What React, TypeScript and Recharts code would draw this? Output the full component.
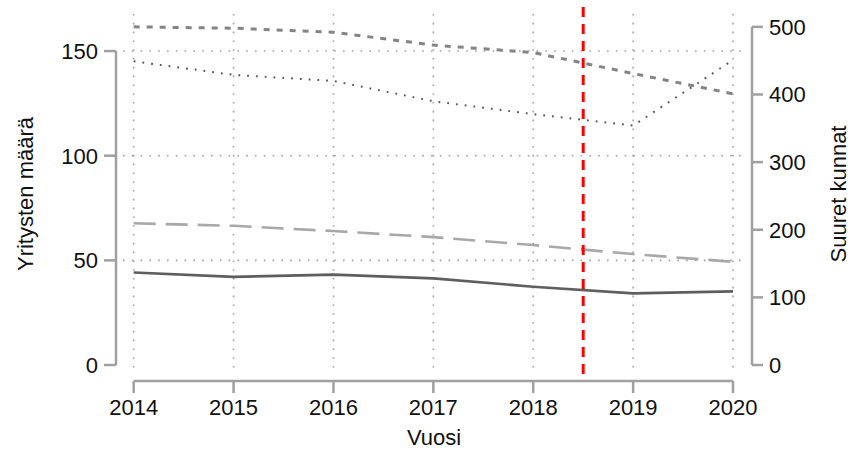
import { CartesianGrid, Line, LineChart, ReferenceLine, XAxis, YAxis } from "recharts"

const years = [2014, 2015, 2016, 2017, 2018, 2019, 2020]
// left axis: Yritysten määrä
const yrityksetSolid = [44.2, 42.1, 43.2, 41.4, 37.4, 34.2, 35.2]
const yrityksetDashed = [67.7, 66.5, 64.0, 61.1, 57.3, 53.0, 49.3]
// right axis: Suuret kunnat
const kunnatDashed = [500, 498, 492, 473, 462, 431, 401]
const kunnatDotted = [449, 429, 420, 390, 371, 354, 451]

const leftTicks = [0, 50, 100, 150]
const rightTicks = [0, 100, 200, 300, 400, 500]
const gridValues = [50, 100, 150]
const cutoffYear = 2018.5

const xDomain = [2013.893, 2020.12]
const leftDomain = [-4.3, 167.7]
const rightDomain = [-13.3, 519]

const data = years.map((year, i) => ({
  year,
  solid: yrityksetSolid[i],
  dashed: yrityksetDashed[i],
  kDashed: kunnatDashed[i],
  kDotted: kunnatDotted[i],
}))

const AXIS = "#a0a0a0"
const TEXT = "#111"
const FONT = "'Liberation Sans', Arial, sans-serif"
const FS = 22
// R-style axes sit a few px away from the plot region
const GAP = 7

function LeftTick({ x, y, payload }: any) {
  return (
    <g>
      <line x1={x - GAP - 12} x2={x - GAP} y1={y} y2={y} stroke={AXIS} strokeWidth={2.5} />
      <text x={x - GAP - 18} y={y} dy="0.36em" textAnchor="end" fontFamily={FONT} fontSize={FS} fill={TEXT}>
        {payload.value}
      </text>
    </g>
  )
}

function RightTick({ x, y, payload }: any) {
  return (
    <g>
      <line x1={x + GAP} x2={x + GAP + 11} y1={y} y2={y} stroke={AXIS} strokeWidth={2.5} />
      <text x={x + GAP + 17} y={y} dy="0.36em" textAnchor="start" fontFamily={FONT} fontSize={FS} fill={TEXT}>
        {payload.value}
      </text>
    </g>
  )
}

function BottomTick({ x, y, payload }: any) {
  return (
    <g>
      <line x1={x} x2={x} y1={y + GAP} y2={y + GAP + 12} stroke={AXIS} strokeWidth={2.5} />
      <text x={x} y={y + 33} dy="0.36em" textAnchor="middle" fontFamily={FONT} fontSize={FS} fill={TEXT}>
        {payload.value}
      </text>
    </g>
  )
}

const axisShape = (dx: number, dy: number) => (p: any) => (
  <line x1={p.x1 + dx} x2={p.x2 + dx} y1={p.y1 + dy} y2={p.y2 + dy} stroke={AXIS} strokeWidth={2.5} />
)

export default function App() {
  return (
    <div style={{ position: "absolute", left: 0, top: 0, width: 851, height: 451, background: "#fff" }}>
      <LineChart width={851} height={451} data={data} margin={{ top: 14, right: 46, bottom: 37, left: 63 }}>
        <CartesianGrid
          yAxisId="left"
          horizontalValues={gridValues}
          verticalValues={years}
          stroke="#a0a0a0"
          strokeWidth={1.6}
          strokeDasharray="1.6 7.2"
        />
        <XAxis
          dataKey="year"
          type="number"
          domain={xDomain}
          ticks={years}
          allowDataOverflow
          height={40}
          axisLine={false}
          tickLine={false}
          tickSize={0}
          tickMargin={0}
          interval={0}
          tick={(p: any) => <BottomTick {...p} />}
          label={(p: any) => {
            const vb = p.viewBox
            return (
              <text x={vb.x + vb.width / 2} y={vb.y + 63} dy="0.36em" textAnchor="middle" fontFamily={FONT} fontSize={FS} fill={TEXT}>
                Vuosi
              </text>
            )
          }}
        />
        <YAxis
          yAxisId="left"
          type="number"
          domain={leftDomain}
          ticks={leftTicks}
          allowDataOverflow
          width={60}
          axisLine={false}
          tickLine={false}
          tickSize={0}
          tickMargin={0}
          interval={0}
          tick={(p: any) => <LeftTick {...p} />}
          label={(p: any) => {
            const vb = p.viewBox
            const cx = vb.x - 38
            const cy = vb.y + vb.height / 2
            return (
              <text x={cx} y={cy} dy="0.36em" textAnchor="middle" transform={`rotate(-90 ${cx} ${cy})`} fontFamily={FONT} fontSize={FS} fill={TEXT}>
                Yritysten määrä
              </text>
            )
          }}
        />
        <YAxis
          yAxisId="right"
          orientation="right"
          type="number"
          domain={rightDomain}
          ticks={rightTicks}
          allowDataOverflow
          width={60}
          axisLine={false}
          tickLine={false}
          tickSize={0}
          tickMargin={0}
          interval={0}
          tick={(p: any) => <RightTick {...p} />}
          label={(p: any) => {
            const vb = p.viewBox
            const cx = vb.x + vb.width + 33
            const cy = vb.y + vb.height / 2
            return (
              <text x={cx} y={cy} dy="0.36em" textAnchor="middle" transform={`rotate(-90 ${cx} ${cy})`} fontFamily={FONT} fontSize={FS} fill={TEXT}>
                Suuret kunnat
              </text>
            )
          }}
        />

        <ReferenceLine
          yAxisId="left"
          ifOverflow="visible"
          segment={[{ x: xDomain[0], y: leftTicks[0] }, { x: xDomain[0], y: leftTicks[leftTicks.length - 1] }]}
          shape={axisShape(-GAP, 0)}
        />
        <ReferenceLine
          yAxisId="right"
          ifOverflow="visible"
          segment={[{ x: xDomain[1], y: rightTicks[0] }, { x: xDomain[1], y: rightTicks[rightTicks.length - 1] }]}
          shape={axisShape(GAP, 0)}
        />
        <ReferenceLine
          yAxisId="left"
          ifOverflow="visible"
          segment={[{ x: years[0], y: leftDomain[0] }, { x: years[years.length - 1], y: leftDomain[0] }]}
          shape={axisShape(0, GAP)}
        />

        <Line yAxisId="left" dataKey="solid" stroke="#5e5e5e" strokeWidth={2.6} dot={false} activeDot={false} isAnimationActive={false} />
        <Line yAxisId="left" dataKey="dashed" stroke="#a8a8a8" strokeWidth={2.6} strokeDasharray="22 10" dot={false} activeDot={false} isAnimationActive={false} />
        <Line yAxisId="right" dataKey="kDashed" stroke="#848484" strokeWidth={3} strokeDasharray="6 7" dot={false} activeDot={false} isAnimationActive={false} />
        <Line yAxisId="right" dataKey="kDotted" stroke="#555" strokeWidth={2} strokeDasharray="1.8 7" dot={false} activeDot={false} isAnimationActive={false} />

        <ReferenceLine
          yAxisId="left"
          ifOverflow="visible"
          segment={[{ x: cutoffYear, y: leftDomain[0] }, { x: cutoffYear, y: leftDomain[1] }]}
          shape={(p: any) => (
            <line x1={p.x1} x2={p.x2} y1={p.y1} y2={p.y2 - GAP} stroke="#ff0000" strokeWidth={3} strokeDasharray="10 7" />
          )}
        />
      </LineChart>
    </div>
  )
}
